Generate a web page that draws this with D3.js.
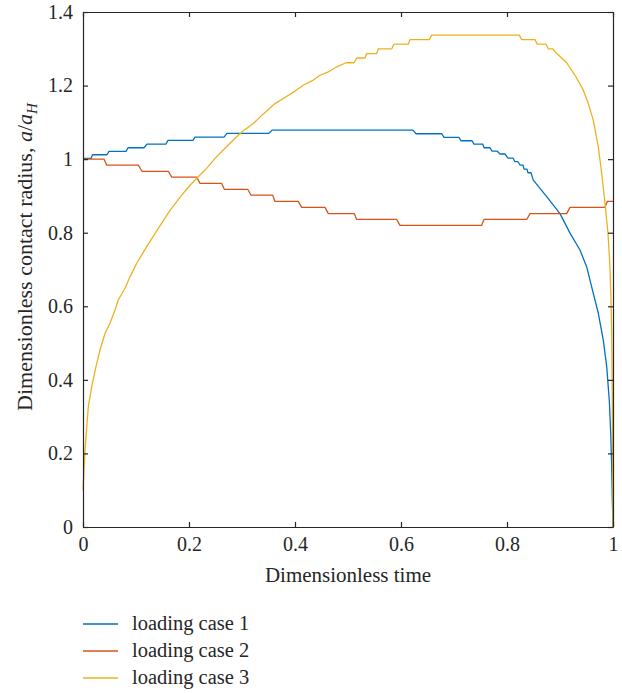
<!DOCTYPE html>
<html>
<head>
<meta charset="utf-8">
<script src="https://cdn.jsdelivr.net/npm/d3@7"></script>
<style>
  body { margin: 0; background: #fff; }
  svg text { font-family: "Liberation Serif", "DejaVu Serif", serif; fill: #262626; }
</style>
</head>
<body>
<script>
// values
const xTicks = [0, 0.2, 0.4, 0.6, 0.8, 1];
const yTicks = [0, 0.2, 0.4, 0.6, 0.8, 1, 1.2, 1.4];
const seriesNames = ["loading case 1", "loading case 2", "loading case 3"];
const seriesColors = ["#0072BD", "#D95319", "#EDB120"];

const case1X = [0, 0.0151, 0.0179, 0.0453, 0.0491, 0.0811, 0.0849, 0.1151, 0.1208, 0.1566,
  0.1604, 0.2075, 0.2113, 0.2660, 0.2717, 0.3509, 0.3566, 0.6226, 0.6283, 0.6768,
  0.6811, 0.7094, 0.7132, 0.7340, 0.7377, 0.7542, 0.7566, 0.7679, 0.7717, 0.7811,
  0.7868, 0.7962, 0.8019, 0.8113, 0.8151, 0.8208, 0.8245, 0.8302, 0.8321, 0.8377,
  0.8396, 0.8453, 0.8496, 0.8749, 0.9, 0.9189, 0.9377, 0.9504, 0.9628, 0.9723,
  0.9817, 0.9881, 0.993, 0.9957, 0.9975, 0.9987, 1];
const case1Y = [1.002, 1.002, 1.012, 1.012, 1.021, 1.021, 1.031, 1.031, 1.041, 1.041,
  1.051, 1.051, 1.060, 1.060, 1.070, 1.070, 1.079, 1.079, 1.069, 1.069,
  1.059, 1.059, 1.050, 1.050, 1.041, 1.041, 1.031, 1.031, 1.022, 1.022,
  1.014, 1.014, 1.003, 1.003, 0.993, 0.993, 0.984, 0.984, 0.973, 0.973,
  0.963, 0.963, 0.943, 0.898, 0.852, 0.799, 0.753, 0.707, 0.635, 0.581,
  0.508, 0.436, 0.345, 0.255, 0.164, 0.073, 0];

const case2X = [0, 0.0396, 0.0447, 0.1043, 0.1113, 0.1609, 0.1674, 0.2145, 0.2208, 0.2617,
  0.2666, 0.3108, 0.317, 0.3579, 0.3623, 0.4062, 0.4126, 0.4566, 0.4628, 0.5119,
  0.5164, 0.5919, 0.5981, 0.7523, 0.7566, 0.8372, 0.8434, 0.9126, 0.9189, 0.9849,
  0.9892, 1];
const case2Y = [1.0, 1.0, 0.984, 0.984, 0.967, 0.967, 0.951, 0.951, 0.934, 0.934,
  0.918, 0.918, 0.902, 0.902, 0.885, 0.885, 0.869, 0.869, 0.852, 0.852,
  0.836, 0.836, 0.820, 0.820, 0.836, 0.836, 0.852, 0.852, 0.869, 0.869,
  0.885, 0.885];

const case3X = [0, 0.0038, 0.0100, 0.0164, 0.0245, 0.0321, 0.0415, 0.0509, 0.0604, 0.0666,
  0.0792, 0.0887, 0.1013, 0.1202, 0.1421, 0.1642, 0.1862, 0.2019, 0.2175, 0.2334,
  0.2491, 0.2647, 0.2836, 0.2994, 0.3213, 0.3402, 0.3623, 0.3779, 0.4, 0.4157,
  0.4345, 0.4472, 0.4628, 0.4787, 0.4962, 0.5113, 0.5164, 0.5321, 0.5353, 0.5542,
  0.5572, 0.5825, 0.5868, 0.6138, 0.6170, 0.6534, 0.6579, 0.8232, 0.8277, 0.8528,
  0.8572, 0.8736, 0.8779, 0.8862, 0.8938, 0.9032, 0.9126, 0.9283, 0.9440, 0.9534,
  0.9628, 0.9723, 0.9787, 0.9849, 0.9906, 0.9943, 0.9962, 0.9975, 0.9987, 0.9994, 1];
const case3Y = [0.10, 0.209, 0.327, 0.381, 0.436, 0.481, 0.526, 0.554, 0.590, 0.617,
  0.649, 0.680, 0.717, 0.762, 0.812, 0.861, 0.902, 0.929, 0.952, 0.975,
  1.002, 1.025, 1.052, 1.074, 1.097, 1.123, 1.151, 1.165, 1.185, 1.201,
  1.215, 1.228, 1.237, 1.251, 1.262, 1.262, 1.275, 1.275, 1.287, 1.287,
  1.300, 1.300, 1.3125, 1.3125, 1.325, 1.325, 1.337, 1.337, 1.325, 1.325,
  1.3125, 1.3125, 1.300, 1.300, 1.287, 1.275, 1.262, 1.228, 1.1875, 1.151,
  1.106, 1.033, 0.961, 0.880, 0.798, 0.707, 0.617, 0.526, 0.345, 0.164, 0];

const svgSize = { width: 622, height: 693 };
const margin = { top: 12, left: 83 };
const figureSize = { width: 530, height: 515 };

const svg = d3.select('body')
  .append('svg')
  .attr('width', svgSize.width)
  .attr('height', svgSize.height);

const xScale = d3.scaleLinear().domain([0, 1]).range([0, figureSize.width]);
const yScale = d3.scaleLinear().domain([0, 1.4]).range([figureSize.height, 0]);

const plot = svg.append('g')
  .attr('transform', `translate(${margin.left}, ${margin.top})`);

// curves
const line = d3.line()
  .x(d => xScale(d[0]))
  .y(d => yScale(d[1]));

const allSeries = [
  d3.zip(case1X, case1Y),
  d3.zip(case2X, case2Y),
  d3.zip(case3X, case3Y)
];

plot.selectAll('path.series')
  .data(allSeries)
  .enter()
  .append('path')
  .attr('class', 'series')
  .attr('d', line)
  .attr('fill', 'none')
  .attr('stroke', (d, i) => seriesColors[i])
  .attr('stroke-width', 1.3)
  .attr('stroke-linejoin', 'round');

// axes, ticks pointing inside, box on
const axisColor = '#262626';
const tickSize = 5;

const xAxis = d3.axisBottom(xScale)
  .tickValues(xTicks)
  .tickFormat(d3.format('~g'))
  .tickSizeInner(-tickSize)
  .tickSizeOuter(0)
  .tickPadding(10);
const gx = plot.append('g')
  .attr('transform', `translate(0, ${figureSize.height})`)
  .call(xAxis);

const yAxis = d3.axisLeft(yScale)
  .tickValues(yTicks)
  .tickFormat(d3.format('~g'))
  .tickSizeInner(-tickSize)
  .tickSizeOuter(0)
  .tickPadding(10);
const gy = plot.append('g').call(yAxis);

const gTop = plot.append('g')
  .call(d3.axisTop(xScale).tickValues(xTicks).tickFormat('').tickSizeInner(-tickSize).tickSizeOuter(0));
const gRight = plot.append('g')
  .attr('transform', `translate(${figureSize.width}, 0)`)
  .call(d3.axisRight(yScale).tickValues(yTicks).tickFormat('').tickSizeInner(-tickSize).tickSizeOuter(0));

for (const g of [gx, gy, gTop, gRight]) {
  g.select('.domain').attr('stroke', axisColor).attr('stroke-width', 1.2);
  g.selectAll('.tick line').attr('stroke', axisColor).attr('stroke-width', 1.2);
  g.selectAll('.tick text')
    .attr('fill', axisColor)
    .style('font-family', '"Liberation Serif", serif')
    .style('font-size', '20px');
}

// axis labels
svg.append('text')
  .attr('x', margin.left + figureSize.width / 2)
  .attr('y', 582)
  .attr('text-anchor', 'middle')
  .style('font-size', '21px')
  .text('Dimensionless time');

const yLabel = svg.append('text')
  .attr('transform', `translate(32, 257) rotate(-90)`)
  .attr('text-anchor', 'middle')
  .style('font-size', '22px');
yLabel.append('tspan').text('Dimensionless contact radius, ');
yLabel.append('tspan').style('font-style', 'italic').text('a');
yLabel.append('tspan').text('/');
yLabel.append('tspan').style('font-style', 'italic').text('a');
yLabel.append('tspan').style('font-style', 'italic').style('font-size', '15px')
  .attr('dy', 5).text('H');

// legend
const legend = svg.append('g').attr('transform', 'translate(83, 624)');
const legendItems = legend.selectAll('g')
  .data(seriesNames)
  .enter()
  .append('g')
  .attr('transform', (d, i) => `translate(0, ${i * 27})`);
legendItems.append('line')
  .attr('x1', 0).attr('x2', 35)
  .attr('stroke', (d, i) => seriesColors[i])
  .attr('stroke-width', 1.3);
legendItems.append('text')
  .attr('x', 49)
  .attr('y', 6)
  .style('font-size', '20.5px')
  .text(d => d);
</script>
</body>
</html>
